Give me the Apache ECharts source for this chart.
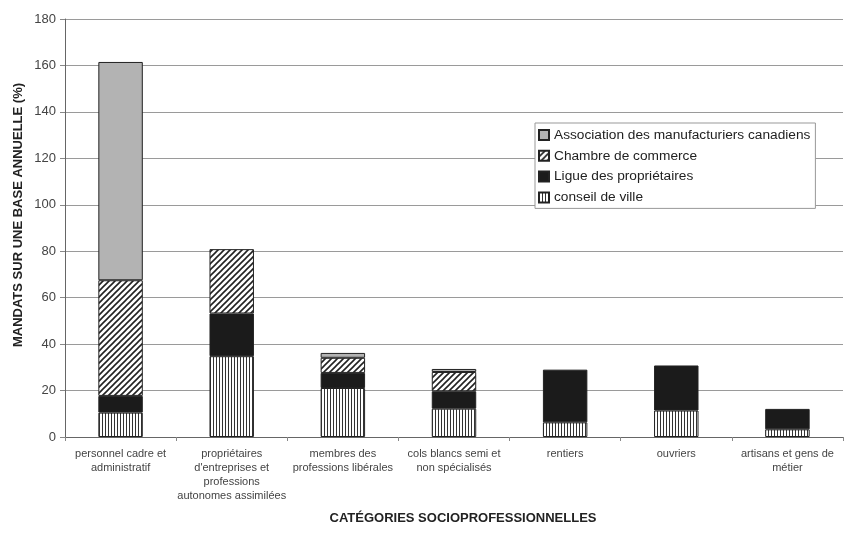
<!DOCTYPE html>
<html><head><meta charset="utf-8">
<script src="https://cdn.jsdelivr.net/npm/echarts@6/dist/echarts.min.js"></script>
<style>html,body{margin:0;padding:0;background:#fff}#c{width:845px;height:535px}</style>
</head><body><div id="c"></div>
<script>
const categories = ['personnel cadre et administratif', "propriétaires d'entreprises et professions autonomes assimilées", 'membres des professions libérales', 'cols blancs semi et non spécialisés', 'rentiers', 'ouvriers', 'artisans et gens de métier'];
const tickLabels = ['personnel cadre et\nadministratif', "propriétaires\nd'entreprises et\nprofessions\nautonomes assimilées", 'membres des\nprofessions libérales', 'cols blancs semi et\nnon spécialisés', 'rentiers', 'ouvriers', 'artisans et gens de\nmétier'];
const seriesNames = ['conseil de ville', 'Ligue des propriétaires', 'Chambre de commerce', 'Association des manufacturiers canadiens'];
const conseil = [10.5, 34.8, 21.1, 12.2, 6.3, 11.4, 3.3];
const ligue = [7.2, 18.4, 6.5, 7.5, 22.7, 19.4, 8.8];
const chambre = [49.8, 27.7, 6.5, 8.3, 0, 0, 0];
const assoc = [94.0, 0, 2.1, 1.3, 0, 0, 0];
const yTicks = [0, 20, 40, 60, 80, 100, 120, 140, 160, 180];
const yTitle = 'MANDATS SUR UNE BASE ANNUELLE (%)';
const xTitle = 'CATÉGORIES SOCIOPROFESSIONNELLES';

function pattern(kind) {
  const c = document.createElement('canvas');
  const ctx = c.getContext('2d');
  if (kind === 'vert') {
    c.width = 3; c.height = 3;
    ctx.fillStyle = '#fff'; ctx.fillRect(0, 0, 3, 3);
    ctx.fillStyle = '#333'; ctx.fillRect(0, 0, 1, 3);
  } else {
    c.width = 6; c.height = 6;
    ctx.fillStyle = '#fff'; ctx.fillRect(0, 0, 6, 6);
    ctx.strokeStyle = '#222'; ctx.lineWidth = 1.6;
    ctx.beginPath();
    ctx.moveTo(-1, 7); ctx.lineTo(7, -1);
    ctx.moveTo(-4, 4); ctx.lineTo(4, -4);
    ctx.moveTo(2, 10); ctx.lineTo(10, 2);
    ctx.stroke();
  }
  return { image: c, repeat: 'repeat' };
}
const fills = [pattern('vert'), '#1b1b1b', pattern('diag'), '#b3b3b3'];
const dataSets = [conseil, ligue, chambre, assoc];
const font = "'Liberation Sans', Arial, sans-serif";

const chart = echarts.init(document.getElementById('c'), null, { renderer: 'canvas' });
chart.setOption({
  animation: false,
  textStyle: { fontFamily: font },
  grid: { left: 65, right: 2, top: 19, bottom: 98 },
  legend: {
    data: seriesNames.slice().reverse(),
    orient: 'vertical',
    left: 535, top: 123,
    icon: 'rect',
    itemWidth: 10, itemHeight: 10, itemGap: 6.8,
    backgroundColor: '#fff',
    borderColor: '#999', borderWidth: 1, borderRadius: 0,
    padding: [5, 5, 4, 3],
    textStyle: { fontSize: 13.7, color: '#222', fontFamily: font }
  },
  graphic: [
    { type: 'text', x: 18, y: 215, rotation: Math.PI / 2,
      style: { text: yTitle, font: 'bold 13px ' + font, fill: '#222', align: 'center', verticalAlign: 'middle' } },
    { type: 'text', x: 463, y: 518,
      style: { text: xTitle, font: 'bold 13px ' + font, fill: '#222', align: 'center', verticalAlign: 'middle' } }
  ],
  xAxis: {
    type: 'category',
    data: categories,
    axisLine: { lineStyle: { color: '#666' } },
    axisTick: { show: true, length: 4, lineStyle: { color: '#888' } },
    axisLabel: {
      interval: 0, margin: 10, fontSize: 11, color: '#444', lineHeight: 14,
      formatter: (v, i) => tickLabels[i]
    }
  },
  yAxis: {
    type: 'value', min: 0, max: 180, interval: 20,
    axisLine: { show: true, lineStyle: { color: '#666' } },
    axisTick: { show: true, length: 5, lineStyle: { color: '#888' } },
    axisLabel: { fontSize: 13, color: '#444', margin: 9,
      formatter: v => yTicks.includes(v) ? String(v) : '' },
    splitLine: { lineStyle: { color: '#9a9a9a', width: 1 } }
  },
  series: dataSets.map((d, k) => ({
    name: seriesNames[k],
    type: 'bar', stack: 'total', barWidth: '40%',
    data: d.map(v => v === 0 ? null : v),
    itemStyle: { color: fills[k], borderColor: '#222', borderWidth: 1 }
  }))
});
</script></body></html>
